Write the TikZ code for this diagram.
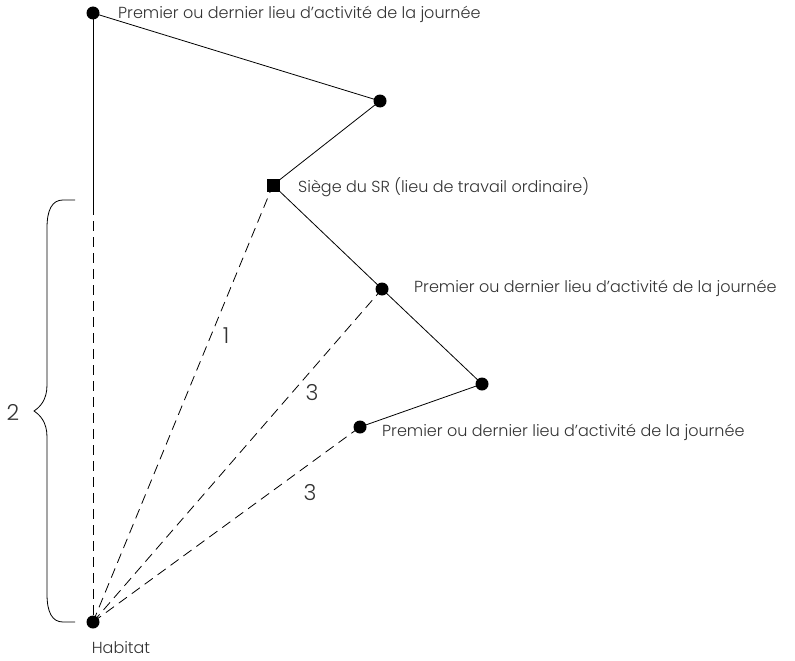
\documentclass[tikz,border=0pt]{standalone}
\usepackage{fontspec}
\setmainfont{Poppins Light}
\definecolor{txt}{HTML}{333333}
\begin{document}
\begin{tikzpicture}[x=1pt,y=-1pt,
  dot/.style={circle,fill=black,inner sep=0pt,minimum size=13pt},
  sq/.style={rectangle,fill=black,inner sep=0pt,minimum size=13pt},
  lbl/.style={text=txt,font=\fontsize{16}{19}\selectfont,inner sep=0pt},
  num/.style={text=txt,font=\fontsize{22}{26}\selectfont,inner sep=0pt},
  solidl/.style={draw=black,line width=0.8pt},
  dashl/.style={draw=black,line width=0.8pt,dash pattern=on 10pt off 6pt}]
\useasboundingbox (0,0) rectangle (795,661);
\node[dot] (A) at (93,13) {};
\node[dot] (B) at (380,101) {};
\node[sq] (S) at (273,185) {};
\node[dot] (C) at (382,289) {};
\node[dot] (D) at (482,384) {};
\node[dot] (E) at (360,427) {};
\node[dot] (H) at (93,622) {};
\coordinate (V) at (93,205);
\draw[solidl] (A.center) -- (B.center) -- (S.center) -- (C.center) -- (D.center) -- (E.center);
\draw[solidl] (A.center) -- (V);
\draw[dashl] (V) -- (H.center);
\draw[dashl] (H.center) -- (S.center);
\draw[dashl] (H.center) -- (C.center);
\draw[dashl] (H.center) -- (E.center);
\node[lbl,anchor=west] (tA) at (118,14) {Premier ou dernier lieu d’activité de la journée};
\node[lbl,anchor=west] (tS) at (298,187) {Siège du SR (lieu de travail ordinaire)};
\node[lbl,anchor=west] (tC) at (414,288) {Premier ou dernier lieu d’activité de la journée};
\node[lbl,anchor=west] (tE) at (382,432) {Premier ou dernier lieu d’activité de la journée};
\node[lbl] (tH) at (121,648) {Habitat};
\node[num] (n1) at (226,336) {1};
\node[num] (n3a) at (312,393) {3};
\node[num] (n3b) at (310,493) {3};
\draw[solidl] (75,200) -- (63,200) .. controls (52,200) and (47,210) .. (47,228) -- (47,385)
  .. controls (47,400) and (40,407) .. (34,411) .. controls (40,415) and (47,422) .. (47,437)
  -- (47,594) .. controls (47,612) and (52,622) .. (63,622) -- (75,622);
\node[num] (n2) at (13,412) {2};
\end{tikzpicture}
\end{document}
